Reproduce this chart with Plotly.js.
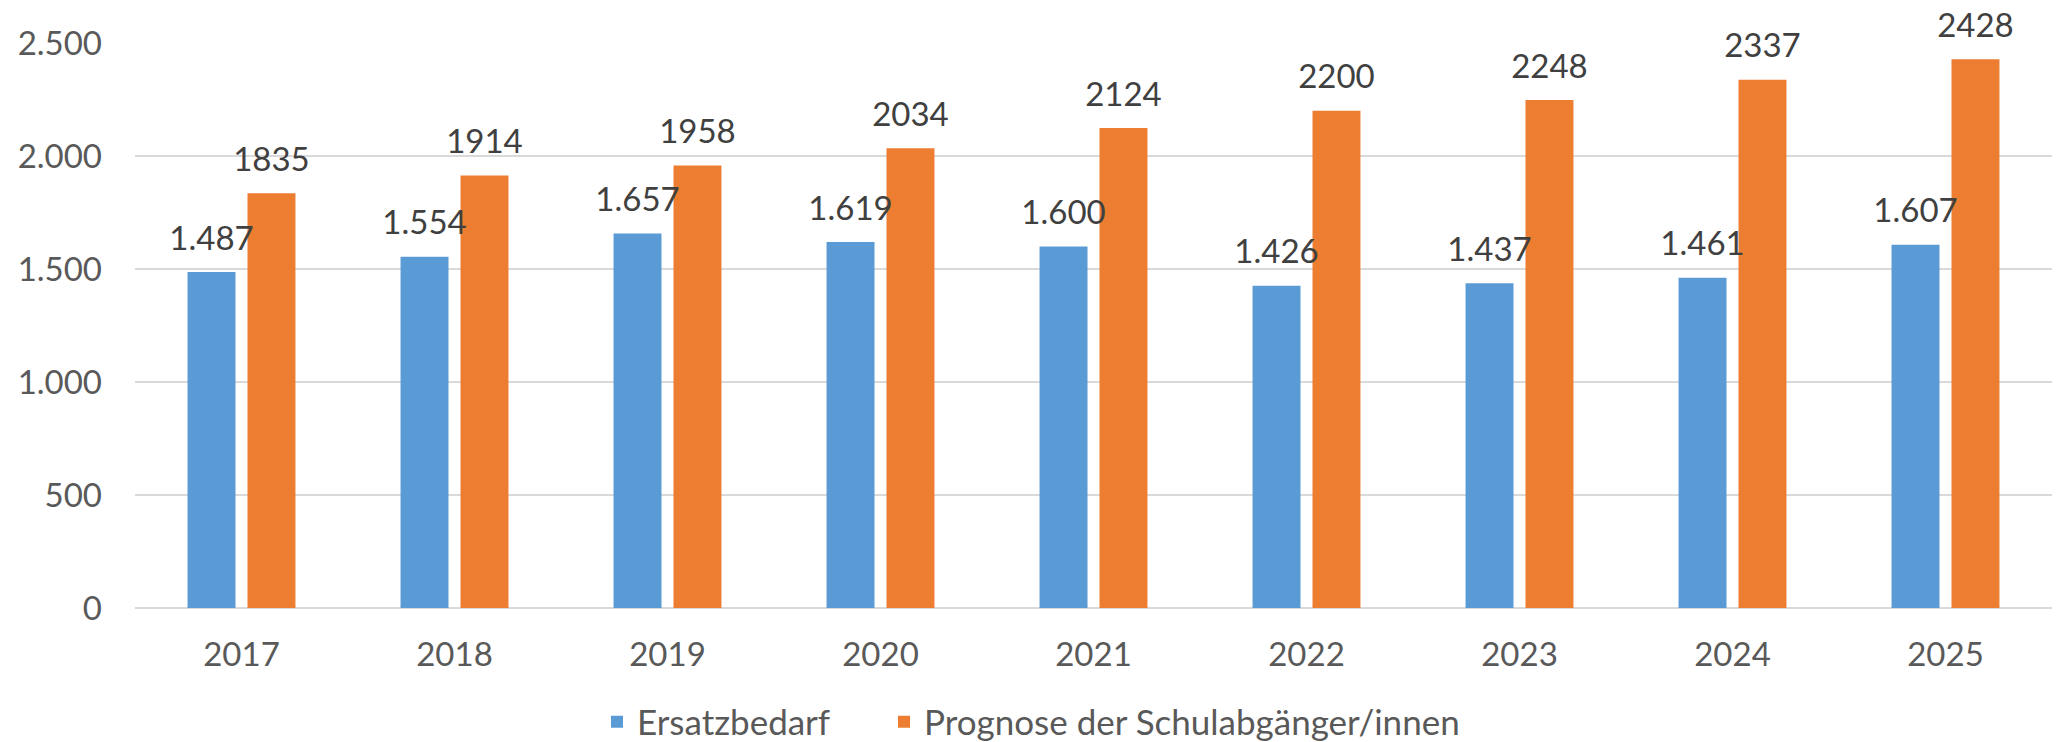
<!DOCTYPE html>
<html>
<head>
<meta charset="utf-8">
<script src="https://cdn.plot.ly/plotly-3.0.1.min.js"></script>
<style>html,body{margin:0;padding:0;background:#fff;}#chart{width:2069px;height:742px;}</style>
</head>
<body>
<div id="chart"></div>
<script>
const years = ['2017','2018','2019','2020','2021','2022','2023','2024','2025'];
const ersatzbedarf = [1487,1554,1657,1619,1600,1426,1437,1461,1607];
const prognose = [1835,1914,1958,2034,2124,2200,2248,2337,2428];
const seriesNames = ['Ersatzbedarf','Prognose der Schulabgänger/innen'];
const yTicks = [0,500,1000,1500,2000,2500];

const blue = '#5B9BD5', orange = '#ED7D31';
const FONT = 'Lato, "Open Sans", sans-serif';
const gap = 0.437;
const legendFont = {family:FONT, size:35, color:'#595959'};

const traces = [
  {type:'bar', x:years, y:ersatzbedarf, name:seriesNames[0], offsetgroup:'a',
   marker:{color:blue}, hoverinfo:'skip', legend:'legend'},
  {type:'bar', x:years, y:prognose, name:seriesNames[1], offsetgroup:'b',
   marker:{color:orange}, hoverinfo:'skip', legend:'legend2'},
  {type:'scatter', mode:'text+markers', x:years, y:ersatzbedarf, offsetgroup:'a',
   texttemplate:'%{y:,}', textposition:'top center', showlegend:false, hoverinfo:'skip',
   marker:{size:21, color:'rgba(0,0,0,0)'}, cliponaxis:false,
   textfont:{family:FONT, size:33, color:'#404040'}},
  {type:'scatter', mode:'text+markers', x:years, y:prognose, offsetgroup:'b',
   text:prognose.map(String), texttemplate:'%{text}', textposition:'top center',
   showlegend:false, hoverinfo:'skip',
   marker:{size:21, color:'rgba(0,0,0,0)'}, cliponaxis:false,
   textfont:{family:FONT, size:33, color:'#404040'}}
];

const layout = {
  width:2069, height:742,
  margin:{l:135, r:17, t:43, b:134},
  paper_bgcolor:'#fff', plot_bgcolor:'#fff',
  separators:',.',
  barmode:'group', bargap:gap, bargroupgap:0.2,
  scattermode:'group', scattergap:gap,
  font:{family:FONT, size:33, color:'#595959'},
  xaxis:{type:'category', showgrid:false, zeroline:false, showline:false,
         ticks:'', ticklabelstandoff:24,
         tickfont:{family:FONT, size:33, color:'#595959'}},
  yaxis:{range:[0,2500], tickvals:yTicks, tickformat:',d',
         showgrid:true, gridcolor:'#D9D9D9', gridwidth:2,
         zeroline:true, zerolinecolor:'#D9D9D9', zerolinewidth:2,
         showline:false, ticks:'', ticklabelstandoff:32,
         tickfont:{family:FONT, size:33, color:'#595959'}},
  legend:{orientation:'h', xref:'container', x:597/2069, xanchor:'left',
          yref:'container', y:0.027, yanchor:'middle', font:legendFont},
  legend2:{orientation:'h', xref:'container', x:884/2069, xanchor:'left',
          yref:'container', y:0.027, yanchor:'middle', font:legendFont},
  showlegend:true
};

Plotly.newPlot('chart', traces, layout, {displayModeBar:false, staticPlot:true});
</script>
</body>
</html>
